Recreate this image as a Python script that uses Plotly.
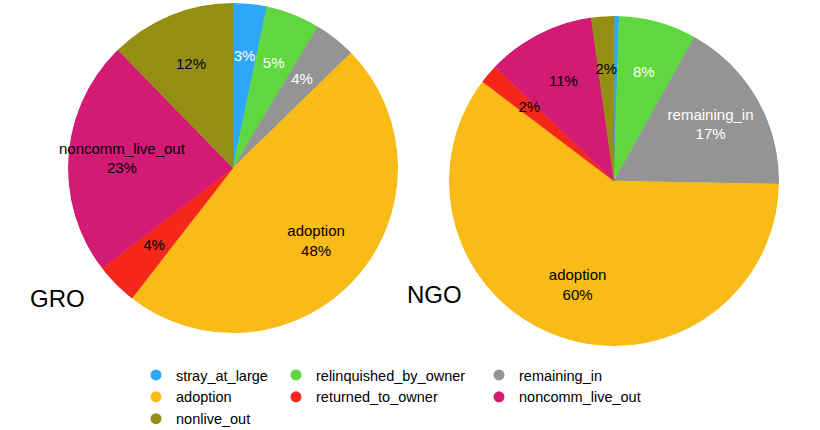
import plotly.graph_objects as go

categories = ["stray_at_large", "relinquished_by_owner", "remaining_in", "adoption",
              "returned_to_owner", "noncomm_live_out", "nonlive_out"]
gro_values = [3.3, 5.3, 4.1, 47.8, 4.1, 23.1, 12.3]
ngo_values = [0.5, 7.6, 17.2, 60.0, 1.9, 10.6, 2.2]
groups = ["GRO", "NGO"]
colors = ["#2ea7f8", "#5fd83f", "#949494", "#f8bb17", "#f5271b", "#d31a75", "#948f14"]
text_colors = ["white", "white", "white", "black", "black", "black", "black"]
legend_columns = [["stray_at_large", "adoption", "nonlive_out"],
                  ["relinquished_by_owner", "returned_to_owner"],
                  ["remaining_in", "noncomm_live_out"]]

W, H = 820, 430
FONT = "Liberation Sans, Arial, Helvetica, sans-serif"

def dom_x(a, b):
    return [a / W, b / W]

def dom_y(top, bottom):
    return [(H - bottom) / H, (H - top) / H]

domains = [
    dict(x=dom_x(68, 398), y=dom_y(3, 333)),
    dict(x=dom_x(449, 779), y=dom_y(16, 346)),
]
subplots = ["polar", "polar2"]

fig = go.Figure()

for i, (name, vals) in enumerate(zip(groups, [gro_values, ngo_values])):
    total = sum(vals)
    thetas, widths, texts = [], [], []
    cum = 0.0
    for c, v in zip(categories, vals):
        thetas.append((cum + v / 2) / total * 360)
        widths.append(v / total * 360)
        cum += v
        pct = v / total * 100
        if pct < 1:
            texts.append("")
        elif pct >= 15:
            texts.append(f"{c}<br>{pct:.0f}%")
        else:
            texts.append(f"{pct:.0f}%")
    fig.add_trace(go.Barpolar(
        r=[1] * len(vals), theta=thetas, width=widths, base=0,
        marker=dict(color=colors, line=dict(width=0.5, color=colors)),
        subplot=subplots[i], showlegend=False, name=name,
        customdata=categories, hovertemplate="%{customdata}<extra></extra>",
    ))
    fig.add_trace(go.Scatterpolar(
        r=[0.675] * len(vals), theta=thetas, text=texts, mode="text",
        textfont=dict(color=text_colors, size=15, family=FONT),
        subplot=subplots[i], showlegend=False, hoverinfo="skip",
    ))

polar_common = dict(
    bgcolor="rgba(0,0,0,0)", hole=0,
    radialaxis=dict(visible=False, range=[0, 1]),
    angularaxis=dict(visible=False, rotation=90, direction="clockwise"),
)
fig.update_layout(
    polar=dict(domain=domains[0], **polar_common),
    polar2=dict(domain=domains[1], **polar_common),
)

# legend entries (circle symbols), three columns
legend_names = ["legend", "legend2", "legend3"]
legend_x = [136, 276, 479]
for li, col in enumerate(legend_columns):
    for c in col:
        fig.add_trace(go.Scatterpolar(
            r=[None], theta=[None], mode="markers", name=c,
            marker=dict(color=colors[categories.index(c)], size=11, symbol="circle"),
            legend=legend_names[li], subplot="polar", showlegend=True,
        ))

leg_common = dict(
    orientation="v", xanchor="left", yanchor="top", xref="container", yref="container",
    y=(H - 359) / H, font=dict(size=14.5, family=FONT, color="black"),
    bgcolor="rgba(0,0,0,0)", tracegroupgap=0, itemclick=False,
)
fig.update_layout(
    legend=dict(x=legend_x[0] / W, **leg_common),
    legend2=dict(x=legend_x[1] / W, **leg_common),
    legend3=dict(x=legend_x[2] / W, **leg_common),
)

annotations = [
    dict(text="GRO", x=28 / W, y=(H - 298) / H),
    dict(text="NGO", x=405 / W, y=(H - 294) / H),
]
for a in annotations:
    fig.add_annotation(xref="paper", yref="paper", xanchor="left", yanchor="middle",
                       showarrow=False, font=dict(size=24, family=FONT, color="black"), **a)

fig.update_layout(
    width=W, height=H, margin=dict(l=0, r=0, t=0, b=0, autoexpand=False),
    paper_bgcolor="white", plot_bgcolor="white",
)

fig.write_html("out.html", config={"displayModeBar": False},
               post_script="document.body.style.margin='0';")
